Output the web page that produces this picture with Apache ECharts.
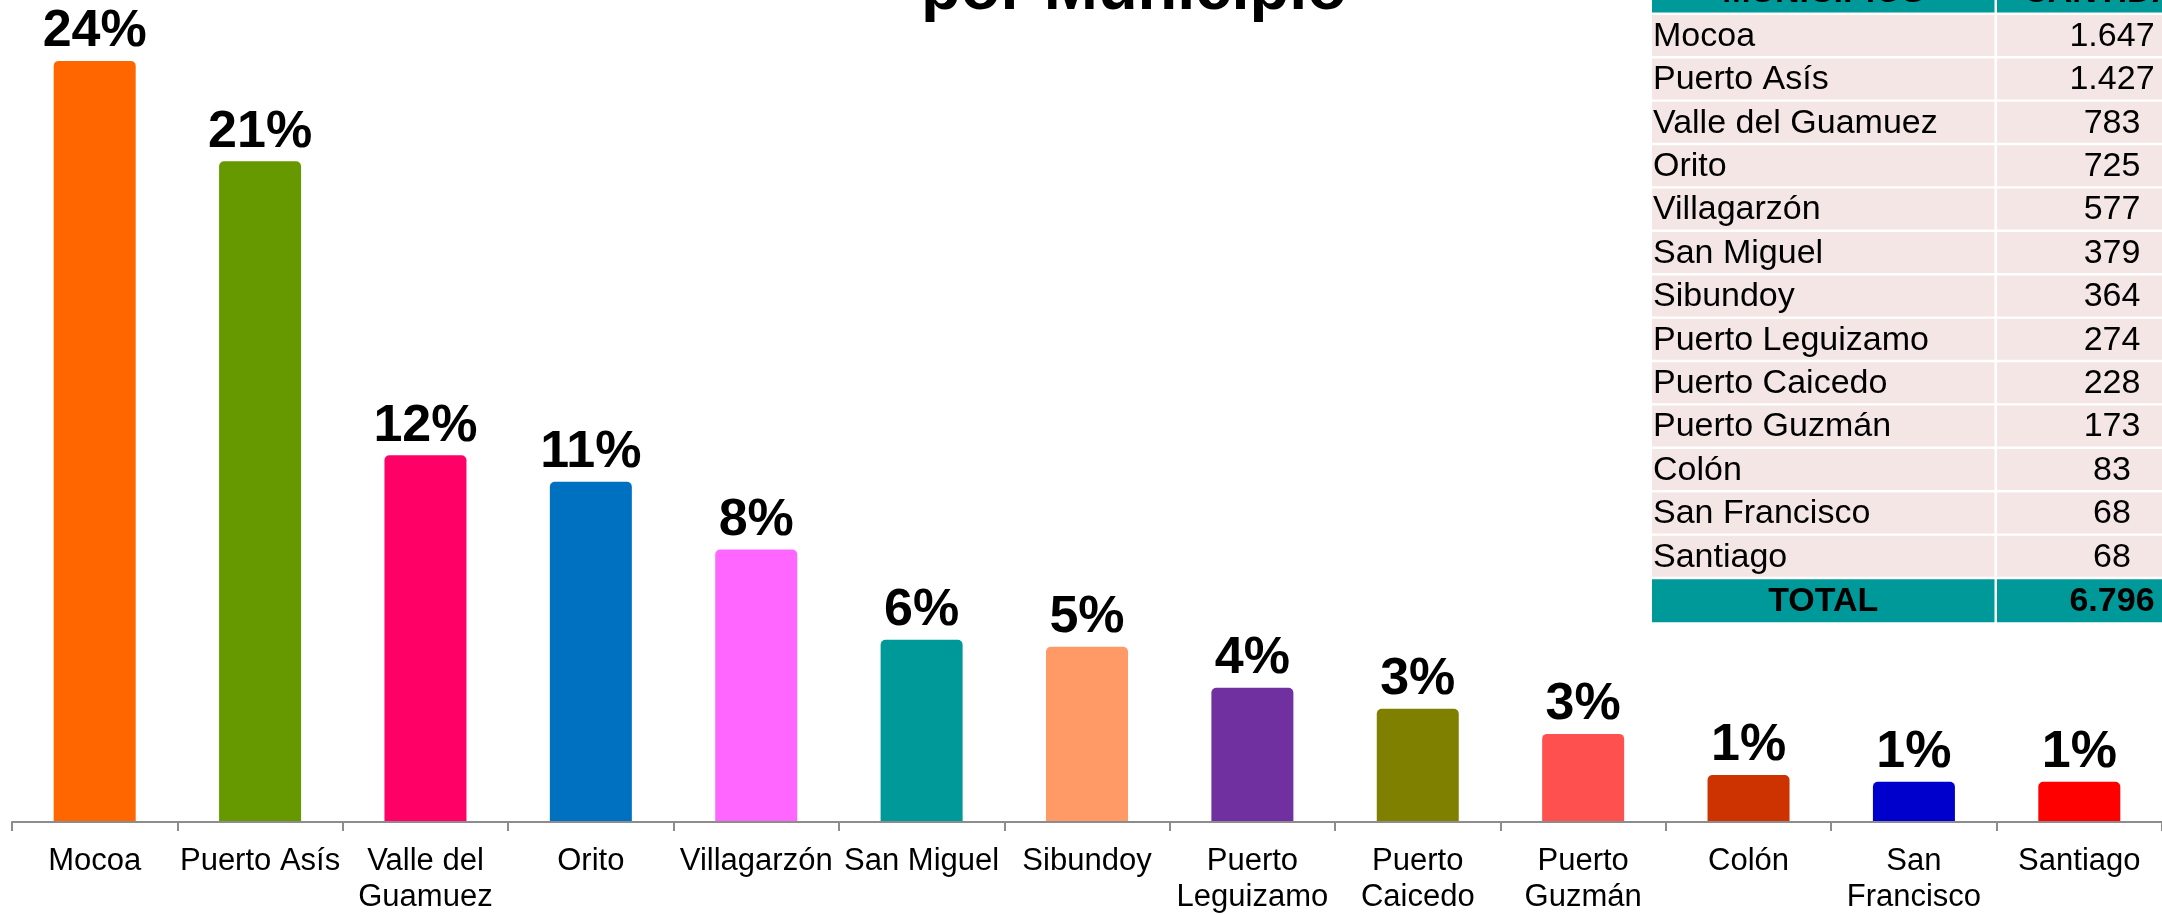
<!DOCTYPE html>
<html>
<head>
<meta charset="utf-8">
<script src="https://cdn.jsdelivr.net/npm/echarts@6/dist/echarts.min.js"></script>
<style>
html,body{margin:0;padding:0;background:#fff;}
#chart{width:2162px;height:915px;}
</style>
</head>
<body>
<div id="chart"></div>
<script>
const titleText = 'por Municipio';
const categories = ['Mocoa','Puerto Asís','Valle del Guamuez','Orito','Villagarzón','San Miguel','Sibundoy','Puerto Leguizamo','Puerto Caicedo','Puerto Guzmán','Colón','San Francisco','Santiago'];
const axisLabels = ['Mocoa','Puerto Asís','Valle del\nGuamuez','Orito','Villagarzón','San Miguel','Sibundoy','Puerto\nLeguizamo','Puerto\nCaicedo','Puerto\nGuzmán','Colón','San\nFrancisco','Santiago'];
const cantidades = [1647,1427,783,725,577,379,364,274,228,173,83,68,68];
const barColors = ['#FF6600','#669900','#FF0066','#0070C0','#FF66FF','#009999','#FF9966','#7030A0','#808000','#FF5050','#CC3300','#0000CC','#FF0000'];
const tableHeader = ['MUNICIPIOS','CANTIDAD'];
const totalLabel = 'TOTAL';

const FONT = '"Liberation Sans", Arial, sans-serif';
const total = cantidades.reduce((a,b)=>a+b,0);
function fmt(n){ return String(n).replace(/\B(?=(\d{3})+(?!\d))/g,'.'); }

// table graphics
const tX = 1652, c1W = 342.5, c2X = 1997, c2W = 230, pitch = 43.4, rowH = 41, firstTop = 15;
const teal = '#009999', pink = '#F5E6E6';
const g = [];
function cell(x,y,w,h,fill){ g.push({type:'rect',shape:{x:x,y:y,width:w,height:h},style:{fill:fill},z:10}); }
function txt(x,y,t,align,bold){ g.push({type:'text',x:x,y:y,z:11,style:{text:t,fill:'#000',font:(bold?'bold ':'')+'34px '+FONT,align:align,verticalAlign:'middle',textAlign:align,textVerticalAlign:'middle'}}); }
// header
const hTop = firstTop - pitch;
cell(tX,hTop,c1W,rowH,teal); cell(c2X,hTop,c2W,rowH,teal);
txt(tX+c1W/2,hTop+rowH/2+1,tableHeader[0],'center',true);
txt(2112,hTop+rowH/2+1,tableHeader[1],'center',true);
categories.forEach((c,i)=>{
  const y = firstTop + i*pitch;
  cell(tX,y,c1W,rowH,pink); cell(c2X,y,c2W,rowH,pink);
  txt(tX+1,y+rowH/2+1,c,'left',false);
  txt(2112,y+rowH/2+1,fmt(cantidades[i]),'center',false);
});
const totTop = firstTop + categories.length*pitch;
cell(tX,totTop,c1W,43,teal); cell(c2X,totTop,c2W,43,teal);
txt(tX+c1W/2,totTop+22,totalLabel,'center',true);
txt(2112,totTop+22,fmt(total),'center',true);
// title (mostly cut off at top)
g.push({type:'text',x:1134,y:-9,z:11,style:{text:titleText,fill:'#000',font:'bold 65px '+FONT,align:'center',verticalAlign:'middle',textAlign:'center',textVerticalAlign:'middle'}});

const chart = echarts.init(document.getElementById('chart'));
chart.setOption({
  animation:false,
  backgroundColor:'#fff',
  grid:{left:12,right:-12,top:36.7,bottom:91,containLabel:false},
  xAxis:{
    type:'category',
    data:categories,
    z:5,
    axisLine:{onZero:false,lineStyle:{color:'#8c8c8c',width:2}},
    axisTick:{show:true,length:9,lineStyle:{color:'#8c8c8c',width:2}},
    axisLabel:{interval:0,margin:21,color:'#000',fontSize:31,lineHeight:36,fontFamily:FONT,
      formatter:function(v,i){return axisLabels[i];}}
  },
  yAxis:{type:'value',min:-20,max:1700,startValue:-20,show:false,splitLine:{show:false}},
  series:[{
    type:'bar',
    barWidth:82,
    data:cantidades.map((v,i)=>({value:v,itemStyle:{color:barColors[i]}})),
    itemStyle:{borderRadius:[5,5,0,0]},
    label:{show:true,position:'top',distance:3,color:'#000',fontSize:52,fontWeight:'bold',fontFamily:FONT,
      formatter:function(p){return Math.round(p.value/total*100)+'%';}}
  }],
  graphic:{elements:g}
});
</script>
</body>
</html>
